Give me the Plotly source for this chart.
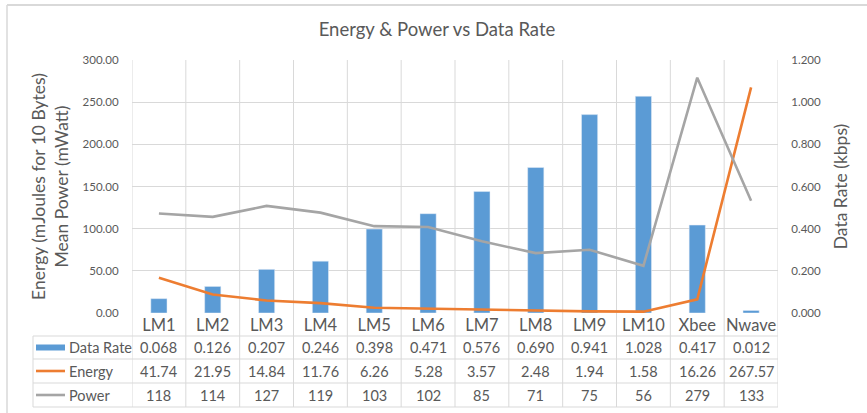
import plotly.graph_objects as go

# ---- data ----
categories = ["LM1", "LM2", "LM3", "LM4", "LM5", "LM6", "LM7", "LM8", "LM9", "LM10", "Xbee", "Nwave"]
data_rate = [0.068, 0.126, 0.207, 0.246, 0.398, 0.471, 0.576, 0.690, 0.941, 1.028, 0.417, 0.012]
energy = [41.74, 21.95, 14.84, 11.76, 6.26, 5.28, 3.57, 2.48, 1.94, 1.58, 16.26, 267.57]
power = [118, 114, 127, 119, 103, 102, 85, 71, 75, 56, 279, 133]

series_names = ["Data Rate", "Energy", "Power"]
data_rate_text = [f"{v:.3f}" for v in data_rate]
energy_text = [f"{v:.2f}" for v in energy]
power_text = [f"{v:d}" for v in power]

# ---- styling ----
W, H = 867, 413
L, R, T, B = 132, 778, 60, 313          # plot area in pixels
PW, PH = R - L, B - T
BLUE, ORANGE, GREY = "#5B9BD5", "#ED7D31", "#A5A5A5"
TXT = "#595959"
GRID = "#D9D9D9"
FONT = "Lato, 'Open Sans', sans-serif"


def px_x(x):
    return (x - L) / PW


def px_y(y):
    return (B - y) / PH


n = len(categories)
idx = list(range(n))

fig = go.Figure()

# bars on the right-hand axis (primary), lines on the left-hand overlay so they draw on top
fig.add_trace(go.Bar(
    x=idx, y=data_rate, name="Data Rate", marker_color=BLUE, width=0.3,
    yaxis="y", showlegend=False,
))
fig.add_trace(go.Scatter(
    x=idx, y=energy, name="Energy", mode="lines",
    line=dict(color=ORANGE, width=2.6), yaxis="y2", showlegend=False,
))
fig.add_trace(go.Scatter(
    x=idx, y=power, name="Power", mode="lines",
    line=dict(color=GREY, width=2.6), yaxis="y2", showlegend=False,
))

shapes = []
annotations = []

# table geometry (pixels)
row_lines = [336, 359, 383, 407]
row_centers = [(row_lines[i] + row_lines[i + 1]) / 2 for i in range(3)]
table_left = 33
table_bottom = row_lines[-1]

# vertical category boundaries through plot and table
for k in range(n + 1):
    shapes.append(dict(
        type="line", xref="x", yref="paper", x0=k - 0.5, x1=k - 0.5,
        y0=px_y(table_bottom), y1=1, line=dict(color=GRID, width=1), layer="below",
    ))
# left edge of legend column
shapes.append(dict(
    type="line", xref="paper", yref="paper", x0=px_x(table_left), x1=px_x(table_left),
    y0=px_y(table_bottom), y1=px_y(row_lines[0]), line=dict(color=GRID, width=1),
))
# horizontal table lines
for yl in row_lines:
    shapes.append(dict(
        type="line", xref="paper", yref="paper", x0=px_x(table_left), x1=1,
        y0=px_y(yl), y1=px_y(yl), line=dict(color=GRID, width=1),
    ))

# legend keys inside the table
key_x0, key_x1 = 36, 65
shapes.append(dict(
    type="rect", xref="paper", yref="paper", x0=px_x(key_x0), x1=px_x(key_x1),
    y0=px_y(row_centers[0] + 3), y1=px_y(row_centers[0] - 3),
    fillcolor=BLUE, line=dict(width=0),
))
for r, col in ((1, ORANGE), (2, GREY)):
    shapes.append(dict(
        type="line", xref="paper", yref="paper", x0=px_x(key_x0), x1=px_x(key_x1),
        y0=px_y(row_centers[r]), y1=px_y(row_centers[r]), line=dict(color=col, width=2.6),
    ))
for r, name in enumerate(series_names):
    annotations.append(dict(
        xref="paper", yref="paper", x=px_x(67), y=px_y(row_centers[r]),
        text=name, showarrow=False, xanchor="left", yanchor="middle",
        font=dict(size=14.5, color=TXT, family=FONT),
    ))

# table values
for r, row in enumerate([data_rate_text, energy_text, power_text]):
    for i, t in enumerate(row):
        annotations.append(dict(
            xref="x", yref="paper", x=i, y=px_y(row_centers[r]),
            text=t, showarrow=False, xanchor="center", yanchor="middle",
            font=dict(size=14.5, color=TXT, family=FONT),
        ))

# outer chart border (top and left)
shapes.append(dict(type="line", xref="paper", yref="paper", x0=px_x(7), x1=px_x(W + 5),
                   y0=px_y(5), y1=px_y(5), line=dict(color="#D9D9D9", width=2)))
shapes.append(dict(type="line", xref="paper", yref="paper", x0=px_x(7), x1=px_x(7),
                   y0=px_y(H + 5), y1=px_y(5), line=dict(color="#D9D9D9", width=1.5)))

fig.update_layout(
    width=W, height=H,
    margin=dict(l=L, r=W - R, t=T, b=H - B, pad=0),
    paper_bgcolor="white", plot_bgcolor="white",
    font=dict(family=FONT, color=TXT),
    title=dict(
        text="Energy & Power vs Data Rate", x=437 / W, xref="container", xanchor="center",
        y=1 - 30 / H, yref="container", yanchor="middle",
        font=dict(size=18.5, color=TXT, family=FONT),
    ),
    bargap=0.7,
    xaxis=dict(
        range=[-0.5, n - 0.5], tickmode="array", tickvals=idx, ticktext=categories,
        showgrid=False, zeroline=False, showline=False, ticks="",
        tickfont=dict(size=16.5, color=TXT, family=FONT), fixedrange=True,
    ),
    yaxis=dict(
        side="right", range=[0, 1.2], dtick=0.2, tickformat=".3f",
        showgrid=True, gridcolor=GRID, gridwidth=1, zeroline=False, showline=False,
        ticks="outside", ticklen=10, tickcolor="rgba(0,0,0,0)",
        tickfont=dict(size=11.5, color=TXT, family=FONT),
        title=dict(text="Data Rate (kbps)", font=dict(size=17.5, color=TXT, family=FONT), standoff=14),
    ),
    yaxis2=dict(
        overlaying="y", side="left", range=[0, 300], dtick=50, tickformat=".2f",
        showgrid=False, zeroline=False, showline=False,
        ticks="outside", ticklen=10, tickcolor="rgba(0,0,0,0)",
        tickfont=dict(size=11.5, color=TXT, family=FONT),
        title=dict(text="Energy (mJoules for 10 Bytes)<br>Mean Power (mWatt)",
                   font=dict(size=17.5, color=TXT, family=FONT), standoff=9),
    ),
    shapes=shapes,
    annotations=annotations,
    showlegend=False,
)

fig.write_html("out.html")
